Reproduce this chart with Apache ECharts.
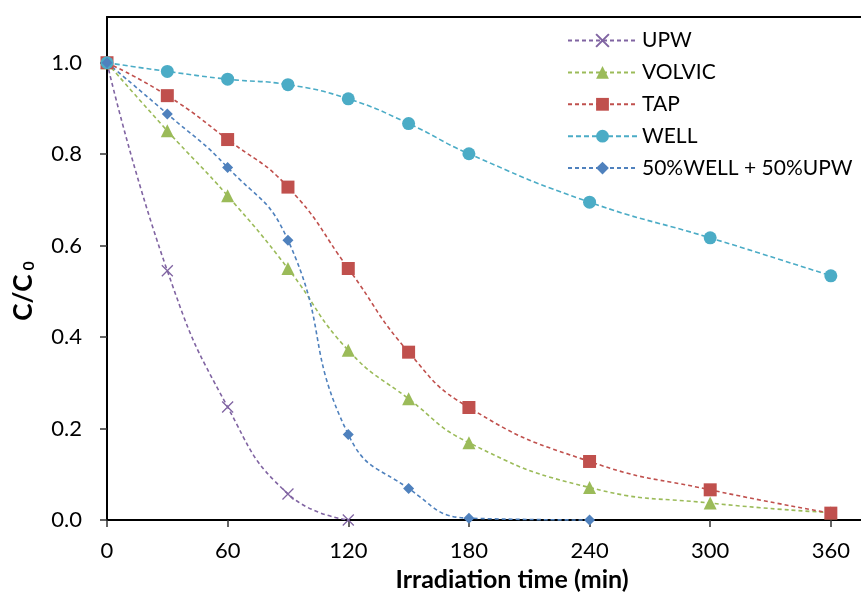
<!DOCTYPE html>
<html>
<head>
<meta charset="utf-8">
<script src="https://cdn.jsdelivr.net/npm/echarts@6/dist/echarts.min.js"></script>
<style>
  html, body { margin: 0; padding: 0; background: #ffffff; }
  #chart { width: 861px; height: 594px; }
</style>
</head>
<body>
<div id="chart"></div>
<script>
// Irradiation time (min) at which C/C0 was sampled
const times = [0, 30, 60, 90, 120, 150, 180, 240, 300, 360];

// Relative concentration C/C0 for each water matrix
const upw    = [1.0, 0.545, 0.247, 0.057, 0.0];
const volvic = [1.0, 0.851, 0.709, 0.550, 0.371, 0.265, 0.169, 0.071, 0.037, 0.016];
const tap    = [1.0, 0.928, 0.832, 0.728, 0.550, 0.367, 0.246, 0.128, 0.066, 0.015];
const well   = [1.0, 0.981, 0.964, 0.952, 0.921, 0.867, 0.801, 0.695, 0.617, 0.534];
const mix    = [1.0, 0.888, 0.771, 0.612, 0.187, 0.069, 0.004, 0.0];

const seriesNames = ['UPW', 'VOLVIC', 'TAP', 'WELL', '50%WELL + 50%UPW'];

// Axis ticks
const xTicks = [0, 60, 120, 180, 240, 300, 360];
const yTicks = [0, 0.2, 0.4, 0.6, 0.8, 1.0];

const FONT = 'Lato';

const crossPath = 'path://M0,0L10,10M10,0L0,10';

function pairs(values) {
  return values.map((v, i) => [times[i], v]);
}

function lineSeries(name, values, color, symbol, size, extra) {
  return Object.assign({
    name: name,
    type: 'line',
    data: pairs(values),
    smooth: 0.5,
    symbol: symbol,
    symbolSize: size,
    showSymbol: true,
    clip: false,
    lineStyle: { color: color, width: 1.6, type: [4, 3] },
    itemStyle: { color: color, borderWidth: 0 },
    emphasis: { disabled: true },
    z: 2
  }, extra || {});
}

const chart = echarts.init(document.getElementById('chart'), null, { renderer: 'canvas' });

chart.setOption({
  animation: false,
  backgroundColor: '#ffffff',
  textStyle: { fontFamily: FONT },
  grid: { left: 107, right: 0, top: 17, bottom: 74, containLabel: false },
  legend: {
    orient: 'vertical',
    left: 562,
    top: 25,
    itemWidth: 69,
    itemHeight: 16,
    itemGap: 10.9,
    data: seriesNames,
    textStyle: { fontFamily: FONT, fontSize: 21, color: '#000', lineHeight: 20 }
  },
  xAxis: [{
    type: 'value',
    min: 0,
    max: 375,
    splitLine: { show: false },
    axisLine: { show: true, onZero: false, lineStyle: { color: '#000', width: 2 } },
    axisTick: { show: true, inside: false, length: 7, customValues: xTicks,
                lineStyle: { color: '#333', width: 1.5 } },
    axisLabel: { customValues: xTicks, fontFamily: FONT, fontSize: 22, color: '#000', margin: 20 }
  }, {
    type: 'value',
    position: 'top',
    min: 0,
    max: 375,
    splitLine: { show: false },
    axisLine: { show: true, onZero: false, lineStyle: { color: '#000', width: 2 } },
    axisTick: { show: false },
    axisLabel: { show: false }
  }],
  yAxis: {
    type: 'value',
    min: 0,
    max: 1.1,
    splitLine: { show: false },
    axisLine: { show: true, onZero: false, lineStyle: { color: '#000', width: 2 } },
    axisTick: { show: true, inside: false, length: 7, customValues: yTicks,
                lineStyle: { color: '#333', width: 1.5 } },
    axisLabel: { customValues: yTicks, fontFamily: FONT, fontSize: 22, color: '#000', margin: 25,
                 formatter: v => v.toFixed(1) }
  },
  graphic: [{
    type: 'text',
    x: 512,
    y: 580,
    style: {
      text: 'Irradiation time (min)',
      font: 'bold 25px ' + FONT,
      fill: '#000',
      align: 'center',
      verticalAlign: 'middle'
    }
  }, {
    type: 'text',
    x: 24,
    y: 291,
    rotation: Math.PI / 2,
    style: {
      text: '{a|C/C}{s| 0}',
      fill: '#000',
      align: 'center',
      verticalAlign: 'middle',
      rich: {
        a: { fontFamily: FONT, fontWeight: 'bold', fontSize: 26, fill: '#000' },
        s: { fontFamily: FONT, fontWeight: 'bold', fontSize: 16, fill: '#000', verticalAlign: 'bottom', padding: [9, 0, 0, 0] }
      }
    }
  }],
  series: [
    lineSeries(seriesNames[0], upw, '#8064A2', crossPath, 11, {
      itemStyle: { color: '#8064A2', borderColor: '#8064A2', borderWidth: 1.3 }
    }),
    lineSeries(seriesNames[1], volvic, '#9BBB59', 'triangle', 13),
    lineSeries(seriesNames[2], tap, '#C0504D', 'rect', 13),
    lineSeries(seriesNames[3], well, '#4BACC6', 'circle', 13, {
      lineStyle: { color: '#4BACC6', width: 1.6, type: [5, 3] }
    }),
    lineSeries(seriesNames[4], mix, '#4F81BD', 'diamond', 11)
  ]
});
</script>
</body>
</html>
